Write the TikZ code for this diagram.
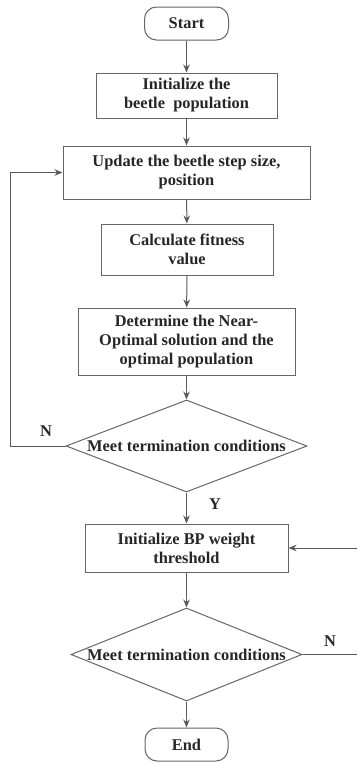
\documentclass[tikz,border=0pt]{standalone}
\usepackage{fontspec}
\setmainfont{Liberation Serif}
\usetikzlibrary{shapes.geometric,arrows.meta}
\tikzset{
  base/.style={draw=black!60, line width=1pt, font=\bfseries\fontsize{16.4}{19}\selectfont, align=center, inner sep=0pt, text=black!85},
  procbox/.style={base, rectangle},
  term/.style={base, rectangle, rounded corners=12pt},
  decide/.style={base, diamond},
  conn/.style={draw=black!65, line width=1pt},
  arr/.style={conn, -{Stealth[length=8pt,width=6.5pt]}},
  lab/.style={font=\bfseries\fontsize{16.4}{19}\selectfont, text=black!85, inner sep=0pt}
}
\begin{document}
\begin{tikzpicture}[x=1pt,y=-1pt]
\useasboundingbox (0,0) rectangle (357,763);
\node[term, minimum width=84pt, minimum height=33pt] (start) at (186.5,23.5) {Start};
\node[procbox, minimum width=181pt, minimum height=45pt] (init) at (186.5,95.5) {Initialize the\\beetle\ \ population};
\node[procbox, minimum width=247pt, minimum height=53pt] (upd) at (186.5,172.5) {Update the beetle step size,\\position};
\node[procbox, minimum width=172pt, minimum height=51pt] (calc) at (187,249.5) {Calculate fitness\\value};
\node[procbox, minimum width=217pt, minimum height=67pt] (det) at (186.5,341.5) {Determine the Near-\\Optimal solution and the\\optimal population};
\node[decide, minimum width=241pt, minimum height=92pt] (d1) at (186.5,446) {\makebox[0pt]{\raisebox{-2pt}{Meet termination conditions}}};
\node[procbox, minimum width=203pt, minimum height=48pt] (bp) at (186.5,548) {Initialize BP weight\\threshold};
\node[decide, minimum width=231pt, minimum height=93pt] (d2) at (186.5,654.5) {\makebox[0pt]{\raisebox{-2pt}{Meet termination conditions}}};
\node[term, minimum width=83pt, minimum height=33pt] (end) at (186.5,744.5) {End};

\coordinate (lc) at (10,0);
\coordinate (rc) at (357,0);

\draw[arr] (start) -- (init);
\draw[arr] (init) -- (upd);
\draw[arr] (upd) -- (calc);
\draw[arr] (calc) -- (det);
\draw[arr] (det) -- (d1);
\draw[arr] (d1) -- (bp);
\draw[arr] (bp) -- (d2);
\draw[arr] (d2) -- (end);
\draw[arr] (d1.west) -- (d1.west -| lc) -- (lc |- upd.west) -- (upd.west);
\draw[conn] (d2.east) -- (d2.east -| rc);
\draw[arr] (rc |- bp.east) -- (bp.east);

\node[lab] (n1) at (46,431) {N};
\node[lab] (y1) at (215,504) {Y};
\node[lab] (n2) at (330,641) {N};
\end{tikzpicture}
\end{document}
